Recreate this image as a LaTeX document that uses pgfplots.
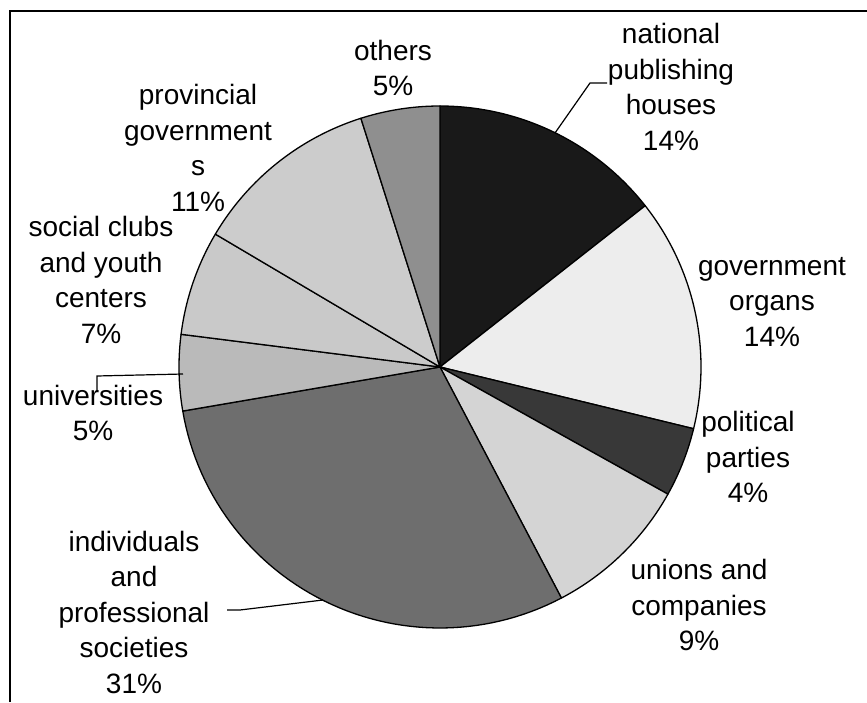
\documentclass[border=0pt]{standalone}
\usepackage{pgfplots}
\pgfplotsset{compat=1.18}
\usepackage{fontspec}
\setmainfont{Liberation Sans}
\definecolor{cNat}{gray}{0.10}
\definecolor{cGov}{gray}{0.93}
\definecolor{cPol}{gray}{0.22}
\definecolor{cUni}{gray}{0.83}
\definecolor{cInd}{gray}{0.43}
\definecolor{cUnv}{gray}{0.73}
\definecolor{cSoc}{gray}{0.79}
\definecolor{cPro}{gray}{0.80}
\definecolor{cOth}{gray}{0.56}
% slice from #1 % to #2 % (cumulative), fill #3
\newcommand{\pieslice}[3]{%
  \addplot[fill=#3, draw=black, line width=1.3pt, line join=round, variable=t, samples at={-1,0,...,61}]
  ({(t<0||t>60) ? 440 : 440+261*sin(3.6*(#1+(#2-#1)*t/60))},
   {(t<0||t>60) ? 335 : 335+261*cos(3.6*(#1+(#2-#1)*t/60))});
}
\begin{document}
\begin{tikzpicture}
\begin{axis}[width=867pt, height=702pt, scale only axis,
  xmin=0, xmax=867, ymin=0, ymax=702, hide axis, clip=false]
% shares (percent): national 14.4, government 14.4, political 4.3, unions 9.2,
% individuals 30.0, universities 4.7, social clubs 6.5, provincial 11.6, others 4.9
\pieslice{0}{14.4}{cNat}
\pieslice{14.4}{28.8}{cGov}
\pieslice{28.8}{33.1}{cPol}
\pieslice{33.1}{42.3}{cUni}
\pieslice{42.3}{72.3}{cInd}
\pieslice{72.3}{77.0}{cUnv}
\pieslice{77.0}{83.5}{cSoc}
\pieslice{83.5}{95.1}{cPro}
\pieslice{95.1}{100}{cOth}
% frame (top and left)
\addplot[black, line width=2.5pt] coordinates {(10,0) (10,691) (867,691)};
% leader lines
\addplot[black, line width=1.2pt] coordinates {(555,569) (590,619) (607,619)};
\addplot[black, line width=1.2pt] coordinates {(97,310) (97,326) (183,328)};
\addplot[black, line width=1.2pt] coordinates {(227,92) (240,92) (323,102)};
% labels
\begin{scope}[every node/.style={align=center, font=\fontsize{28}{35.5}\selectfont, inner sep=0pt}]
\node at (axis cs:671,615) {national\\publishing\\houses\\14\%};
\node at (axis cs:772,400) {government\\organs\\14\%};
\node at (axis cs:748,245) {political\\parties\\4\%};
\node at (axis cs:699,97) {unions and\\companies\\9\%};
\node at (axis cs:134,90) {individuals\\and\\professional\\societies\\31\%};
\node at (axis cs:93,289) {universities\\5\%};
\node at (axis cs:101,422) {social clubs\\and youth\\centers\\7\%};
\node at (axis cs:198,554) {provincial\\government\\s\\11\%};
\node at (axis cs:393,634) {others\\5\%};
\end{scope}
\end{axis}
\pgfresetboundingbox
\path (current axis.south west) rectangle (current axis.north east);
\end{tikzpicture}
\end{document}
